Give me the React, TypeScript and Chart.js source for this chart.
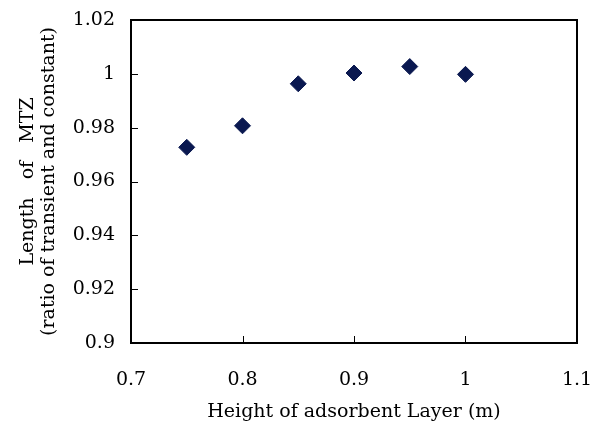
import React, { useEffect, useRef } from "react";
import { Chart, registerables } from "chart.js";

Chart.register(...registerables);

const heights = [0.75, 0.8, 0.85, 0.9, 0.95, 1.0];
const mtzRatio = [0.9727, 0.9807, 0.9963, 1.0003, 1.0027, 0.9998];
const xTickValues = [0.7, 0.8, 0.9, 1.0, 1.1];
const yTickValues = [0.9, 0.92, 0.94, 0.96, 0.98, 1.0, 1.02];
const xTitle = "Height of adsorbent Layer (m)";
const yTitle = ["Length   of   MTZ", "(ratio of transient and constant)"];

const FONT = "'DejaVu Serif', 'Liberation Serif', serif";
const MARK = "#0a1850";

const frame = {
  id: "frame",
  afterDraw(chart: any) {
    const { ctx, chartArea: a, scales } = chart;
    ctx.save();
    ctx.strokeStyle = "#000";
    ctx.lineWidth = 1;
    const tl = 7;
    ctx.beginPath();
    for (const v of xTickValues) {
      const px = Math.round(scales.x.getPixelForValue(v)) + 0.5;
      ctx.moveTo(px, a.bottom);
      ctx.lineTo(px, a.bottom - tl);
    }
    for (const v of yTickValues) {
      const py = Math.round(scales.y.getPixelForValue(v)) + 0.5;
      ctx.moveTo(a.left, py);
      ctx.lineTo(a.left + tl, py);
    }
    ctx.stroke();
    ctx.lineWidth = 2;
    ctx.strokeRect(a.left, a.top, a.right - a.left, a.bottom - a.top);
    ctx.restore();
  },
};

export default function App() {
  const ref = useRef<HTMLCanvasElement>(null);
  useEffect(() => {
    document.body.style.margin = "0";
    const chart = new Chart(ref.current!, {
      type: "scatter",
      data: {
        datasets: [
          {
            data: heights.map((h, i) => ({ x: h, y: mtzRatio[i] })),
            pointStyle: "rectRot",
            pointRadius: 8,
            pointBackgroundColor: MARK,
            pointBorderColor: MARK,
            pointBorderWidth: 1,
          },
        ],
      },
      options: {
        responsive: false,
        animation: false,
        layout: { padding: { top: 20, right: 15, left: 0, bottom: 0 } },
        plugins: { legend: { display: false }, tooltip: { enabled: false } },
        scales: {
          x: {
            type: "linear",
            min: 0.7,
            max: 1.1,
            afterBuildTicks: (s: any) => {
              s.ticks = xTickValues.map((v) => ({ value: v }));
            },
            afterFit: (s: any) => {
              s.height = 80;
              s.paddingLeft = 0;
              s.paddingRight = 0;
            },
            grid: { display: false, drawTicks: false },
            border: { display: false },
            ticks: {
              color: "#000",
              padding: 26,
              font: { family: FONT, size: 19 },
              callback: (v: any) => String(Number(v)),
              maxRotation: 0,
            },
            title: {
              display: true,
              text: xTitle,
              color: "#000",
              font: { family: FONT, size: 19 },
              padding: { top: 0, bottom: 0 },
            },
          },
          y: {
            type: "linear",
            min: 0.9,
            max: 1.02,
            afterBuildTicks: (s: any) => {
              s.ticks = yTickValues.map((v) => ({ value: v }));
            },
            afterFit: (s: any) => {
              s.width = 131;
              s.paddingTop = 0;
              s.paddingBottom = 0;
            },
            grid: { display: false, drawTicks: false },
            border: { display: false },
            ticks: {
              color: "#000",
              padding: 16,
              font: { family: FONT, size: 19 },
              callback: (v: any) => String(Number(Number(v).toFixed(2))),
            },
            title: {
              display: true,
              text: yTitle,
              color: "#000",
              font: { family: FONT, size: 19, lineHeight: 1.12 },
              padding: { top: 17, bottom: 0 },
            },
          },
        },
      },
      plugins: [frame],
    });
    return () => chart.destroy();
  }, []);
  return <canvas ref={ref} width={592} height={423} style={{ display: "block" }} />;
}
